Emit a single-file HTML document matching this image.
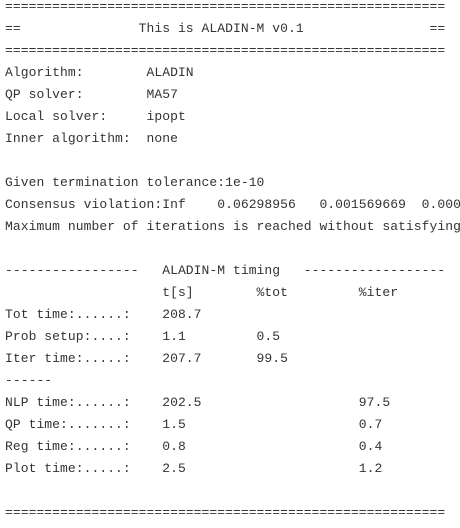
<!DOCTYPE html>
<html><head><meta charset="utf-8"><style>
html,body{margin:0;padding:0;background:#fff;width:460px;height:528px;overflow:hidden}
pre{margin:0;position:absolute;left:5px;top:-4px;font-family:"Liberation Mono",monospace;font-size:13px;letter-spacing:0.06px;line-height:22px;color:#333;white-space:pre}
</style></head><body>
<pre>========================================================
==               This is ALADIN-M v0.1                ==
========================================================
Algorithm:        ALADIN
QP solver:        MA57
Local solver:     ipopt
Inner algorithm:  none

Given termination tolerance:1e-10
Consensus violation:Inf    0.06298956   0.001569669  0.000
Maximum number of iterations is reached without satisfying

-----------------   ALADIN-M timing   ------------------
                    t[s]        %tot         %iter
Tot time:......:    208.7
Prob setup:....:    1.1         0.5
Iter time:.....:    207.7       99.5
------
NLP time:......:    202.5                    97.5
QP time:.......:    1.5                      0.7
Reg time:......:    0.8                      0.4
Plot time:.....:    2.5                      1.2

========================================================</pre>
</body></html>
